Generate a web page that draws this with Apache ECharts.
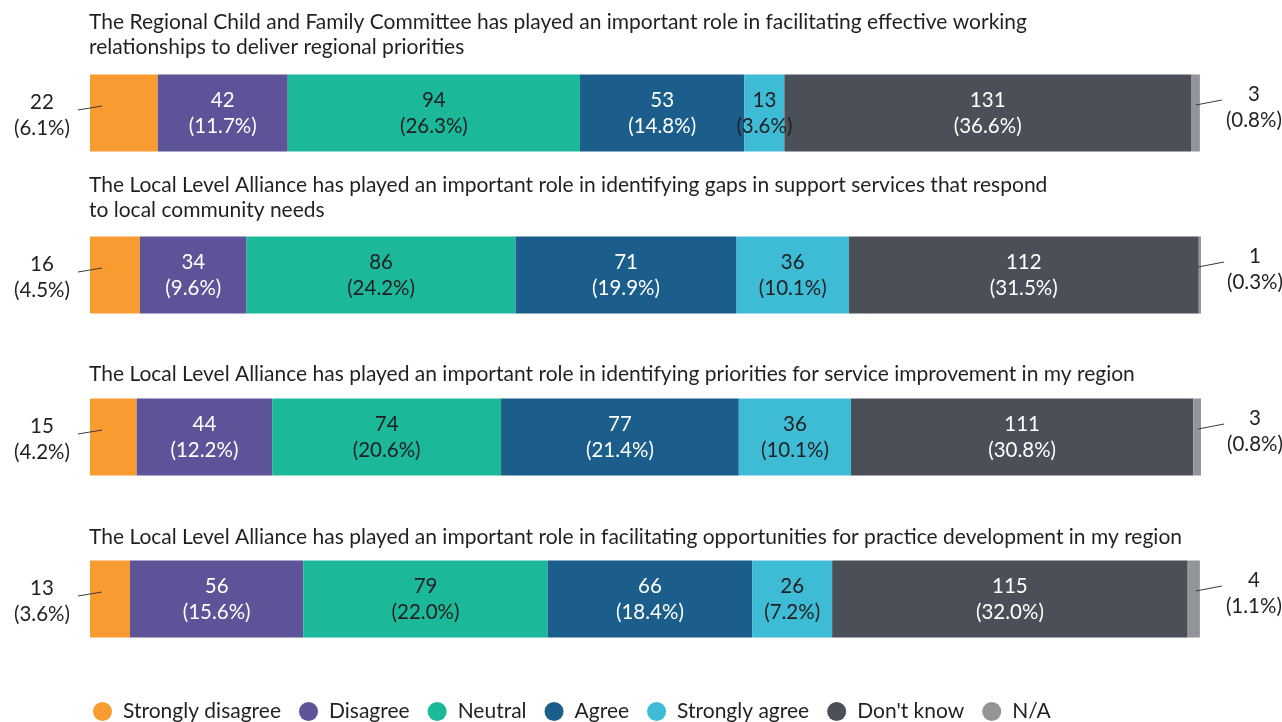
<!DOCTYPE html>
<html>
<head>
<meta charset="utf-8">
<script src="https://cdn.jsdelivr.net/npm/echarts@6/dist/echarts.min.js"></script>
<style>
html,body{margin:0;padding:0;background:#fff;}
#chart{width:1282px;height:722px;}
</style>
</head>
<body>
<div id="chart"></div>
<script>
// ---- Data ----
const questions = [
  'The Regional Child and Family Committee has played an important role in facilitating effective working\nrelationships to deliver regional priorities',
  'The Local Level Alliance has played an important role in identifying gaps in support services that respond\nto local community needs',
  'The Local Level Alliance has played an important role in identifying priorities for service improvement in my region',
  'The Local Level Alliance has played an important role in facilitating opportunities for practice development in my region'
];
const responseNames = ['Strongly disagree', 'Disagree', 'Neutral', 'Agree', 'Strongly agree', "Don't know", 'N/A'];

const stronglyDisagreeCount = [22, 16, 15, 13];
const stronglyDisagreePct   = [6.1, 4.5, 4.2, 3.6];
const disagreeCount = [42, 34, 44, 56];
const disagreePct   = [11.7, 9.6, 12.2, 15.6];
const neutralCount = [94, 86, 74, 79];
const neutralPct   = [26.3, 24.2, 20.6, 22.0];
const agreeCount = [53, 71, 77, 66];
const agreePct   = [14.8, 19.9, 21.4, 18.4];
const stronglyAgreeCount = [13, 36, 36, 26];
const stronglyAgreePct   = [3.6, 10.1, 10.1, 7.2];
const dontKnowCount = [131, 112, 111, 115];
const dontKnowPct   = [36.6, 31.5, 30.8, 32.0];
const naCount = [3, 1, 3, 4];
const naPct   = [0.8, 0.3, 0.8, 1.1];

// ---- Styling ----
const FONT = 'Lato';
const TEXT_DARK = '#231F20';
const colors = ['#F89C31', '#5C5399', '#1CB89A', '#1B5E8B', '#3EBBD5', '#4A4F58', '#949599'];
const labelColors = [TEXT_DARK, '#FFFFFF', TEXT_DARK, '#FFFFFF', TEXT_DARK, '#FFFFFF', TEXT_DARK];

const counts = [stronglyDisagreeCount, disagreeCount, neutralCount, agreeCount, stronglyAgreeCount, dontKnowCount, naCount];
const pcts = [stronglyDisagreePct, disagreePct, neutralPct, agreePct, stronglyAgreePct, dontKnowPct, naPct];

const totals = questions.map((q, i) => pcts.reduce((s, arr) => s + arr[i], 0));

function fmt(k) {
  return function (p) {
    return counts[k][p.dataIndex] + '\n(' + pcts[k][p.dataIndex].toFixed(1) + '%)';
  };
}

const series = responseNames.map((name, k) => {
  let label = {
    show: true,
    formatter: fmt(k),
    color: labelColors[k],
    fontFamily: FONT,
    fontSize: 20.5,
    lineHeight: 26,
    position: 'inside'
  };
  if (k === 0) {
    label = Object.assign({}, label, { position: [-48, '50%'], align: 'center', verticalAlign: 'middle', offset: [0, 2], color: TEXT_DARK });
  } else if (k === responseNames.length - 1) {
    label = Object.assign({}, label, { position: ['100%', '50%'], align: 'center', verticalAlign: 'middle', offset: [54, -6], color: TEXT_DARK });
  }
  return {
    name: name,
    type: 'bar',
    stack: 'total',
    barWidth: 77,
    itemStyle: { color: colors[k] },
    label: label,
    emphasis: { disabled: true },
    data: pcts[k]
  };
});

// leader lines for outer labels
series.push({
  type: 'custom',
  z: 5,
  silent: true,
  encode: { x: 1, y: 0 },
  data: questions.map((q, i) => [i, totals[i]]),
  renderItem: function (params, api) {
    const cat = api.value(0);
    const p0 = api.coord([0, cat]);
    const p1 = api.coord([api.value(1), cat]);
    const st = { stroke: '#3a3a3a', lineWidth: 1 };
    return {
      type: 'group',
      children: [
        { type: 'line', shape: { x1: p0[0] + 12, y1: p0[1] - 7, x2: p0[0] - 12, y2: p0[1] - 3 }, style: st },
        { type: 'line', shape: { x1: p1[0] - 4, y1: p1[1] - 8, x2: p1[0] + 22, y2: p1[1] - 13 }, style: st }
      ]
    };
  }
});

const titleTops = [9.5, 172.5, 361.5, 524.5];
const titles = questions.map((q, i) => ({
  text: q,
  left: 89,
  top: titleTops[i],
  padding: 0,
  textStyle: { fontFamily: FONT, fontSize: 21, lineHeight: 25, fontWeight: 'normal', color: TEXT_DARK }
}));

const chart = echarts.init(document.getElementById('chart'), null, { renderer: 'canvas' });
chart.setOption({
  animation: false,
  title: titles,
  legend: {
    data: responseNames,
    left: 93,
    top: 701,
    padding: 0,
    icon: 'circle',
    itemWidth: 19,
    itemHeight: 19,
    itemGap: 18,
    selectedMode: false,
    textStyle: { fontFamily: FONT, fontSize: 21, lineHeight: 20, color: TEXT_DARK, padding: [0, 0, 0, 6] }
  },
  grid: { left: 90, right: 81, top: 32, bottom: 42 },
  xAxis: { type: 'value', min: 0, max: 100, show: false },
  yAxis: { type: 'category', inverse: true, data: questions.map((q, i) => 'Q' + (i + 1)), show: false },
  series: series
});
</script>
</body>
</html>
